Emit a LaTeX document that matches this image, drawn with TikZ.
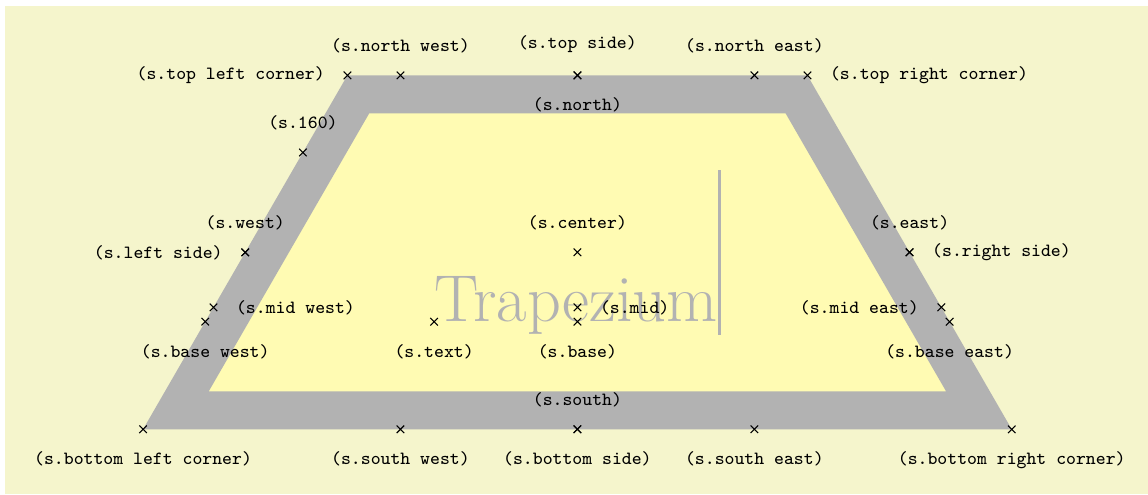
\documentclass[tikz,border=0pt]{standalone}
\usepackage{tikz}
\usetikzlibrary{shapes.geometric}
\definecolor{graphicBack}{rgb}{0.96,0.96,0.8}

\begin{document}
\Huge
\begin{tikzpicture}[shape example/.style={color=black!30, draw, fill=yellow!30, line width=.5cm, inner xsep=1cm, inner ysep=1cm}, mark label/.style={font=\scriptsize\ttfamily, inner sep=8.3pt, text=black}]
    % background and margins
    \fill[white] (-7.62,-3.19) rectangle (7.53,3.33);
    \fill[graphicBack] (-7.554,-3.19) rectangle (7.53,3.25);
    \useasboundingbox (-7.62,-3.19) rectangle (7.53,3.33);

    \node[name=s, shape=trapezium, shape example] {Trapezium\vrule width 1pt height 2cm};

    \draw[shift=(s.center)] plot[mark=x] coordinates{(0,0)} node[above, mark label] {(s.center)};
    \draw[shift=(s.text)] plot[mark=x] coordinates{(0,0)} node[below, mark label] {(s.text)};
    \draw[shift=(s.160)] plot[mark=x] coordinates{(0,0)} node[above, mark label] {(s.160)};
    \draw[shift=(s.mid)] plot[mark=x] coordinates{(0,0)} node[right, mark label] {(s.mid)};
    \draw[shift=(s.mid west)] plot[mark=x] coordinates{(0,0)} node[right, mark label] {(s.mid west)};
    \draw[shift=(s.mid east)] plot[mark=x] coordinates{(0,0)} node[left, mark label] {(s.mid east)};
    \draw[shift=(s.base)] plot[mark=x] coordinates{(0,0)} node[below, mark label] {(s.base)};
    \draw[shift=(s.base west)] plot[mark=x] coordinates{(0,0)} node[below, mark label] {(s.base west)};
    \draw[shift=(s.base east)] plot[mark=x] coordinates{(0,0)} node[below, mark label] {(s.base east)};
    \draw[shift=(s.north)] plot[mark=x] coordinates{(0,0)} node[below, mark label] {(s.north)};
    \draw[shift=(s.south)] plot[mark=x] coordinates{(0,0)} node[above, mark label] {(s.south)};
    \draw[shift=(s.east)] plot[mark=x] coordinates{(0,0)} node[above, mark label] {(s.east)};
    \draw[shift=(s.west)] plot[mark=x] coordinates{(0,0)} node[above, mark label] {(s.west)};
    \draw[shift=(s.north west)] plot[mark=x] coordinates{(0,0)} node[above, mark label] {(s.north west)};
    \draw[shift=(s.north east)] plot[mark=x] coordinates{(0,0)} node[above, mark label] {(s.north east)};
    \draw[shift=(s.south west)] plot[mark=x] coordinates{(0,0)} node[below, mark label] {(s.south west)};
    \draw[shift=(s.south east)] plot[mark=x] coordinates{(0,0)} node[below, mark label] {(s.south east)};
    \draw[shift=(s.bottom left corner)] plot[mark=x] coordinates{(0,0)} node[below, mark label] {(s.bottom left corner)};
    \draw[shift=(s.bottom right corner)] plot[mark=x] coordinates{(0,0)} node[below, mark label] {(s.bottom right corner)};
    \draw[shift=(s.top left corner)] plot[mark=x] coordinates{(0,0)} node[left, mark label] {(s.top left corner)};
    \draw[shift=(s.top right corner)] plot[mark=x] coordinates{(0,0)} node[right, mark label] {(s.top right corner)};
    \draw[shift=(s.left side)] plot[mark=x] coordinates{(0,0)} node[left, mark label] {(s.left side)};
    \draw[shift=(s.right side)] plot[mark=x] coordinates{(0,0)} node[right, mark label] {(s.right side)};
    \draw[shift=(s.top side)] plot[mark=x] coordinates{(0,0)} node[above, mark label] {(s.top side)};
    \draw[shift=(s.bottom side)] plot[mark=x] coordinates{(0,0)} node[below, mark label] {(s.bottom side)};
\end{tikzpicture}
\end{document}
